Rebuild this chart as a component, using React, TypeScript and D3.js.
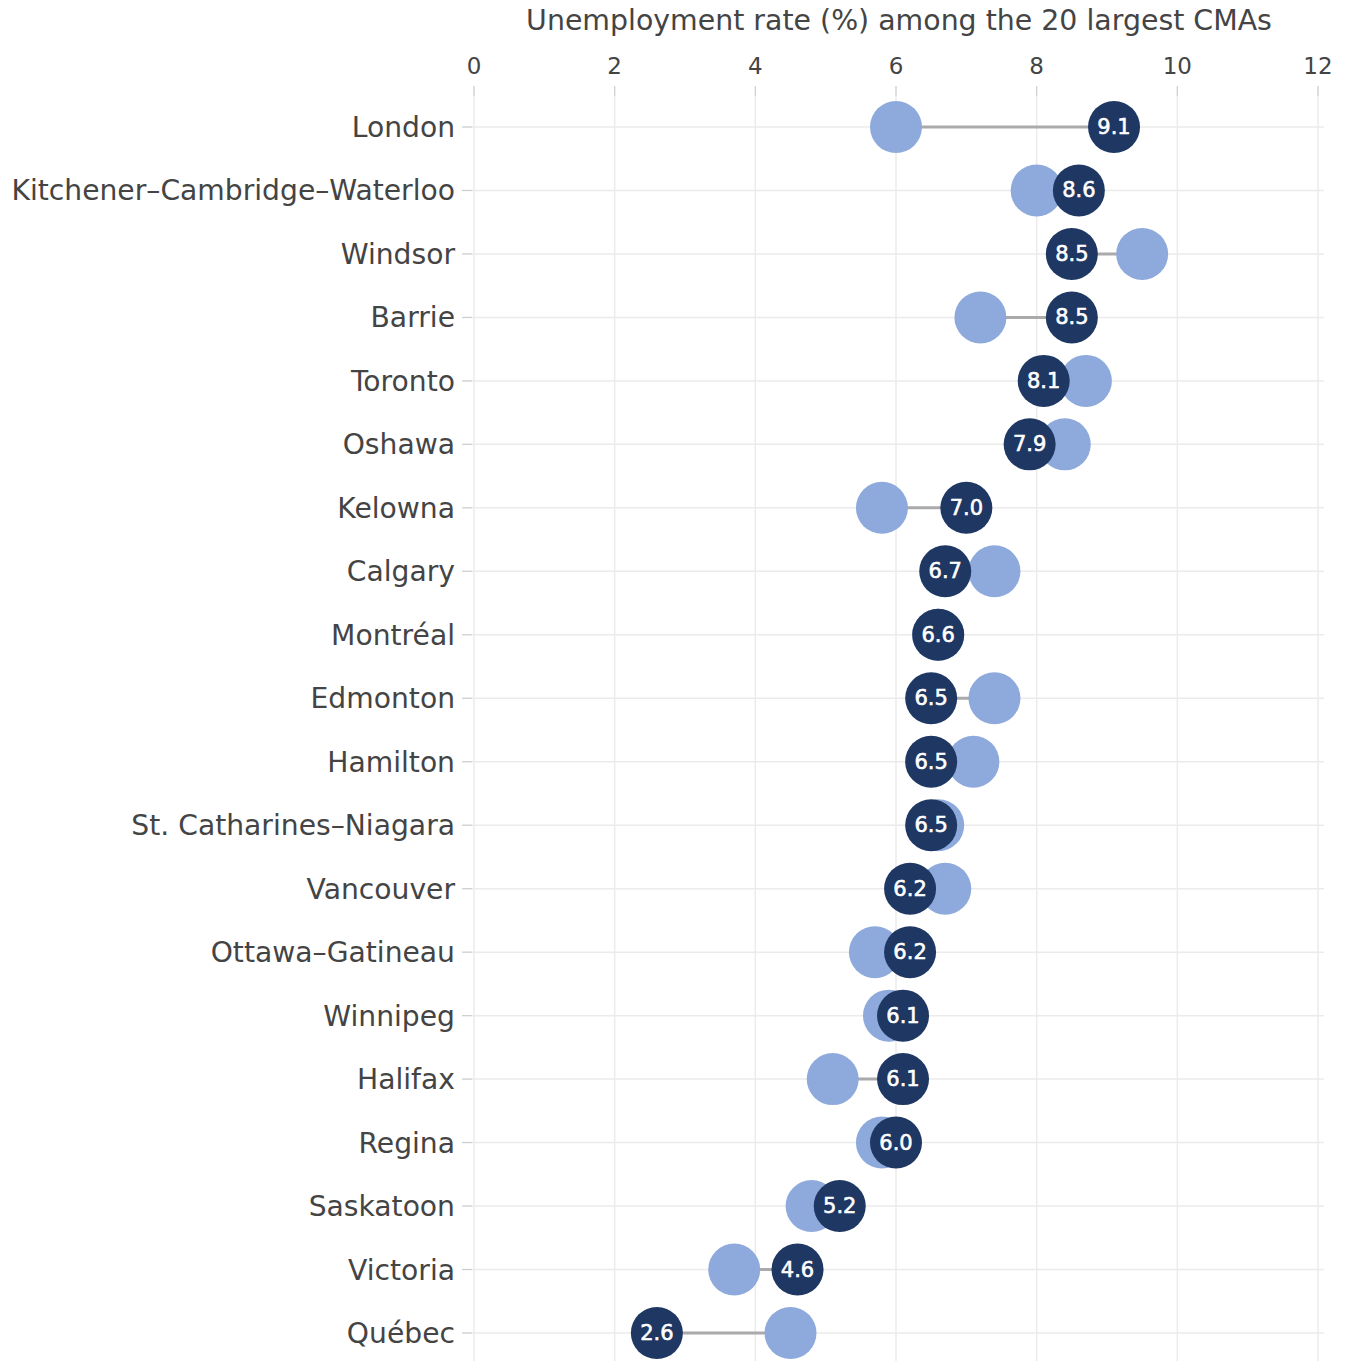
import * as d3 from "d3";

const cities = [
  "London", "Kitchener–Cambridge–Waterloo", "Windsor", "Barrie", "Toronto", "Oshawa",
  "Kelowna", "Calgary", "Montréal", "Edmonton", "Hamilton", "St. Catharines–Niagara",
  "Vancouver", "Ottawa–Gatineau", "Winnipeg", "Halifax", "Regina", "Saskatoon",
  "Victoria", "Québec",
];
const previous = [6.0, 8.0, 9.5, 7.2, 8.7, 8.4, 5.8, 7.4, 6.6, 7.4, 7.1, 6.6, 6.7, 5.7, 5.9, 5.1, 5.8, 4.8, 3.7, 4.5];
const current = [9.1, 8.6, 8.5, 8.5, 8.1, 7.9, 7.0, 6.7, 6.6, 6.5, 6.5, 6.5, 6.2, 6.2, 6.1, 6.1, 6.0, 5.2, 4.6, 2.6];
const xTicks = [0, 2, 4, 6, 8, 10, 12];
const title = "Unemployment rate (%) among the 20 largest CMAs";

const width = 1345;
const height = 1361;
const font = "Verdana, 'DejaVu Sans', sans-serif";

export default function App() {
  const x = d3.scaleLinear().domain([0, 12]).range([474, 1318]);
  const y = d3.scalePoint<string>().domain(cities).range([127, 1333]);
  const r = 26;

  return (
    <svg width={width} height={height} style={{ position: "absolute", left: 0, top: 0 }}>
      <rect width={width} height={height} fill="#fff" />
      <text x={899} y={30} textAnchor="middle" fontFamily={font} fontSize={28.4} fill="#444">
        {title}
      </text>
      {xTicks.map((t) => (
        <g key={t}>
          <line x1={x(t)} x2={x(t)} y1={86} y2={1361} stroke="#ebebeb" strokeWidth={1.5} />
          <line x1={x(t)} x2={x(t)} y1={86} y2={96} stroke="#ccc" strokeWidth={1} />
          <text x={x(t)} y={74} textAnchor="middle" fontFamily={font} fontSize={23} fill="#444">
            {t}
          </text>
        </g>
      ))}
      {cities.map((c) => (
        <g key={c}>
          <line x1={462} x2={1324} y1={y(c)} y2={y(c)} stroke="#ebebeb" strokeWidth={1.5} />
          <line x1={462} x2={472} y1={y(c)} y2={y(c)} stroke="#ccc" strokeWidth={1} />
          <text x={455} y={(y(c) ?? 0) + 10} textAnchor="end" fontFamily={font} fontSize={28.2} fill="#444">
            {c}
          </text>
        </g>
      ))}
      {cities.map((c, i) => (
        <line key={c} x1={x(previous[i])} x2={x(current[i])} y1={y(c)} y2={y(c)} stroke="#aaa" strokeWidth={3} />
      ))}
      {cities.map((c, i) => (
        <circle key={c} cx={x(previous[i])} cy={y(c)} r={r} fill="#8eaadc" />
      ))}
      {cities.map((c, i) => (
        <g key={c}>
          <circle cx={x(current[i])} cy={y(c)} r={r} fill="#1f3763" />
          <text x={x(current[i])} y={(y(c) ?? 0) + 7} textAnchor="middle" fontFamily={font} fontSize={21} fill="#fff" stroke="#fff" strokeWidth={0.6}>
            {current[i].toFixed(1)}
          </text>
        </g>
      ))}
    </svg>
  );
}
